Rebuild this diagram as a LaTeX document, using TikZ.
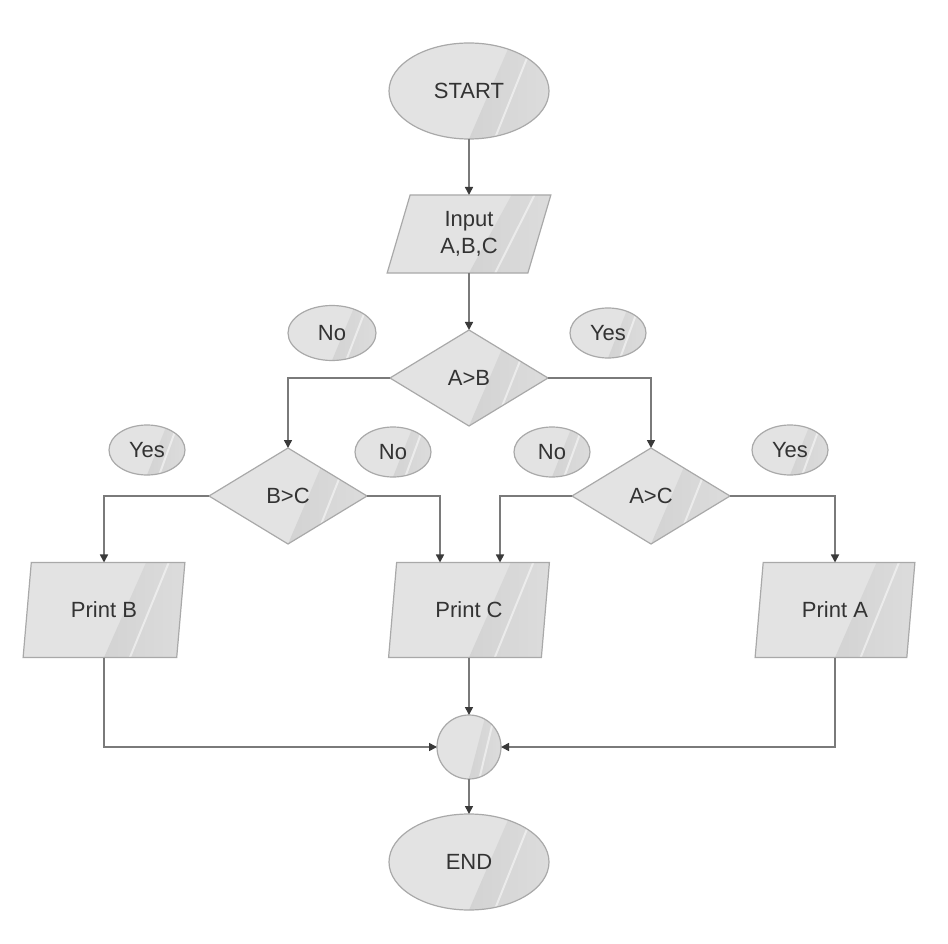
\documentclass[tikz,border=0pt]{standalone}
\usepackage{fontspec}
\setmainfont{Liberation Sans}
\usetikzlibrary{shapes.geometric,arrows.meta,calc}
\definecolor{fillc}{HTML}{E3E3E3}
\definecolor{bordc}{HTML}{A9A9A9}
\definecolor{shA}{HTML}{CACACA}
\definecolor{shB}{HTML}{DCDCDC}
\definecolor{linec}{HTML}{7A7A7A}
\definecolor{tipc}{HTML}{3A3A3A}
\definecolor{txtc}{HTML}{333333}
\tikzset{
  base/.style={draw=bordc, line width=1.2pt, fill=fillc, text=txtc, inner sep=0pt, outer sep=0pt,
    font=\fontsize{22}{27}\selectfont, align=center,
    path picture={
      \shade[left color=shA, right color=shB]
        ($(path picture bounding box.north west)!0.76!(path picture bounding box.north east)$)
        -- (path picture bounding box.north east)
        -- (path picture bounding box.south east)
        -- ($(path picture bounding box.south west)!0.50!(path picture bounding box.south east)$) -- cycle;
      \draw[white, opacity=0.5, line width=2pt]
        ($(path picture bounding box.north west)!0.9!(path picture bounding box.north east)$)
        -- ($(path picture bounding box.south west)!0.66!(path picture bounding box.south east)$);
    }},
  term/.style={base, ellipse, minimum width=160pt, minimum height=96pt},
  lbl/.style={base, ellipse, minimum width=76pt, minimum height=50pt},
  io/.style={base, trapezium, trapezium left angle=77, trapezium right angle=103,
    trapezium stretches=true, minimum width=162pt, minimum height=95pt},
  dec/.style={base, diamond, minimum width=158pt, minimum height=96pt},
  junc/.style={base, circle, minimum size=64pt},
  conn/.style={draw=linec, line width=1.6pt, -{Triangle[length=8pt, width=8pt, fill=tipc, color=tipc]}},
}
\begin{document}
\begin{tikzpicture}[x=1pt, y=-1pt]
\useasboundingbox (0,0) rectangle (948,944);
\node[term] (start) at (469,91) {START};
\node[io, minimum height=78pt, minimum width=164pt, trapezium left angle=76, trapezium right angle=104] (input) at (469,234) {Input\\A,B,C};
\node[dec] (ab) at (469,378) {A>B};
\node[dec] (bc) at (288,496) {B>C};
\node[dec] (ac) at (651,496) {A>C};
\node[io] (pb) at (104,610) {Print B};
\node[io] (pc) at (469,610) {Print C};
\node[io, minimum width=160pt] (pa) at (835,610) {Print A};
\node[junc] (j) at (469,747) {};
\node[term] (end) at (469,862) {END};
% labels
\node[lbl, minimum width=88pt, minimum height=55pt] (l1) at (332,333) {No};
\node[lbl] (l2) at (608,333) {Yes};
\node[lbl] (l3) at (147,450) {Yes};
\node[lbl] (l4) at (393,452) {No};
\node[lbl] (l5) at (552,452) {No};
\node[lbl] (l6) at (790,450) {Yes};
% connectors
\draw[conn] (start) -- (input);
\draw[conn] (input) -- (ab);
\draw[conn] (ab.west) -| (bc.north);
\draw[conn] (ab.east) -| (ac.north);
\draw[conn] (bc.west) -| (pb.north);
\draw[conn] (bc.east) -| ([xshift=-29pt]pc.north);
\draw[conn] (ac.west) -| ([xshift=31pt]pc.north);
\draw[conn] (ac.east) -| (pa.north);
\draw[conn] (pc) -- (j);
\draw[conn] (pb.south) |- (j.west);
\draw[conn] (pa.south) |- (j.east);
\draw[conn] (j) -- (end);
\end{tikzpicture}
\end{document}
